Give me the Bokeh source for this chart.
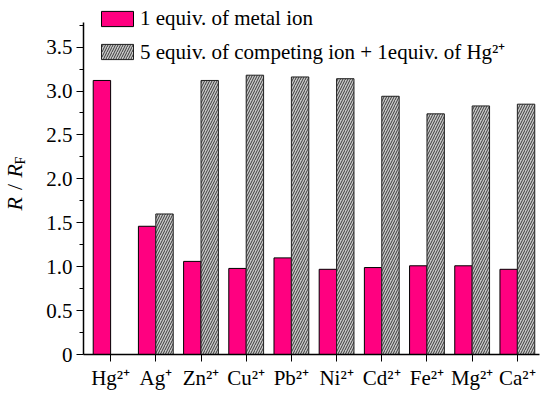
import math
from bokeh.plotting import figure
from bokeh.layouts import row
from bokeh.models import Range1d, FixedTicker, Legend, LegendItem, ColumnDataSource
from bokeh.core.properties import value
from bokeh.embed import file_html
from bokeh.resources import INLINE

ions = ["Hg²⁺", "Ag⁺", "Zn²⁺", "Cu²⁺", "Pb²⁺", "Ni²⁺", "Cd²⁺", "Fe²⁺", "Mg²⁺", "Ca²⁺"]
metal_only = [3.12, 1.46, 1.06, 0.98, 1.10, 0.97, 0.99, 1.01, 1.01, 0.97]
competing_plus_hg = [float("nan"), 1.60, 3.12, 3.18, 3.16, 3.14, 2.94, 2.74, 2.83, 2.85]
y_ticks = [0, 0.5, 1.0, 1.5, 2.0, 2.5, 3.0, 3.5]
y_tick_labels = ["0", "0.5", "1.0", "1.5", "2.0", "2.5", "3.0", "3.5"]
y_minor = [0.25, 0.75, 1.25, 1.75, 2.25, 2.75, 3.25, 3.75]
y_axis_max = 3.78
legend_labels = ["1 equiv. of metal ion", "5 equiv. of competing ion + 1equiv. of Hg²⁺"]
y_label_parts = ["R", "/", "R", "F"]

FONT = "Liberation Serif"
BAR_W = 0.385
idx = list(range(len(ions)))

src = ColumnDataSource(dict(
    x1=[i - BAR_W / 2 for i in idx],
    x2=[i + BAR_W / 2 for i in idx],
    a=metal_only,
    b=competing_plus_hg,
))

# ---------- main chart ----------
p = figure(width=510, height=398, output_backend="svg", toolbar_location=None,
           x_range=Range1d(-0.6, 9.49), y_range=Range1d(0, y_axis_max * 354 / 332),
           min_border_left=43, min_border_right=11, min_border_top=0, min_border_bottom=44)
p.outline_line_color = None
p.xgrid.visible = False
p.ygrid.visible = False

r1 = p.vbar(x="x1", top="a", bottom=0, width=BAR_W, source=src,
            fill_color="#FF0080", line_color="black", line_width=1)
r2 = p.vbar(x="x2", top="b", bottom=0, width=BAR_W, source=src,
            fill_color="#C8C8C8", line_color="#202020", line_width=1,
            hatch_pattern="/", hatch_color="#3A3A3A", hatch_scale=5, hatch_weight=1)

# x axis
p.xaxis.ticker = FixedTicker(ticks=idx)
p.xaxis.major_label_overrides = {i: ions[i] for i in idx}
p.xaxis.minor_tick_line_color = None
p.xaxis.major_tick_in = 0
p.xaxis.major_tick_out = 7
p.xaxis.axis_line_width = 1.5
p.xaxis.major_label_standoff = 4
p.xaxis.major_label_text_font = FONT
p.xaxis.major_label_text_font_size = "21px"
p.xaxis.major_label_text_color = "black"

# y axis
p.yaxis.bounds = (0, y_axis_max)
p.yaxis.ticker = FixedTicker(ticks=y_ticks, minor_ticks=y_minor)
p.yaxis.major_label_overrides = {t: l for t, l in zip(y_ticks, y_tick_labels)}
p.yaxis.major_tick_in = 0
p.yaxis.major_tick_out = 7
p.yaxis.minor_tick_in = 0
p.yaxis.minor_tick_out = 4
p.yaxis.axis_line_width = 1.5
p.yaxis.major_label_standoff = 4
p.yaxis.major_label_text_font = FONT
p.yaxis.major_label_text_font_size = "21px"
p.yaxis.major_label_text_color = "black"

legend = Legend(items=[LegendItem(label=legend_labels[0], renderers=[r1]),
                       LegendItem(label=legend_labels[1], renderers=[r2])],
                location=(14, 289), orientation="vertical",
                glyph_width=40, glyph_height=19, label_height=19,
                label_standoff=3, spacing=6, padding=0, margin=0,
                border_line_color=None, background_fill_alpha=0,
                label_text_font=FONT, label_text_font_size="21px",
                label_text_color="black")
p.add_layout(legend)

# ---------- y-axis title strip: R / R_F ----------
t = figure(width=40, height=398, output_backend="svg", toolbar_location=None,
           x_range=Range1d(0, 40), y_range=Range1d(0, 398),
           x_axis_type=None, y_axis_type=None, min_border=0)
t.outline_line_color = None
t.xgrid.visible = False
t.ygrid.visible = False
lab_src = ColumnDataSource(dict(
    x=[14, 14, 14, 20],
    y=[162, 185, 199, 213.5],
    text=y_label_parts,
    style=["italic", "normal", "italic", "normal"],
    size=["22px", "22px", "22px", "14px"],
))
t.text(x="x", y="y", text="text", source=lab_src, angle=math.pi / 2,
       text_font=value(FONT), text_font_style="style", text_font_size="size",
       text_color="black", text_align="left", text_baseline="alphabetic")

layout = row(t, p, spacing=0)
open("out.html", "w").write(file_html(layout, INLINE))
